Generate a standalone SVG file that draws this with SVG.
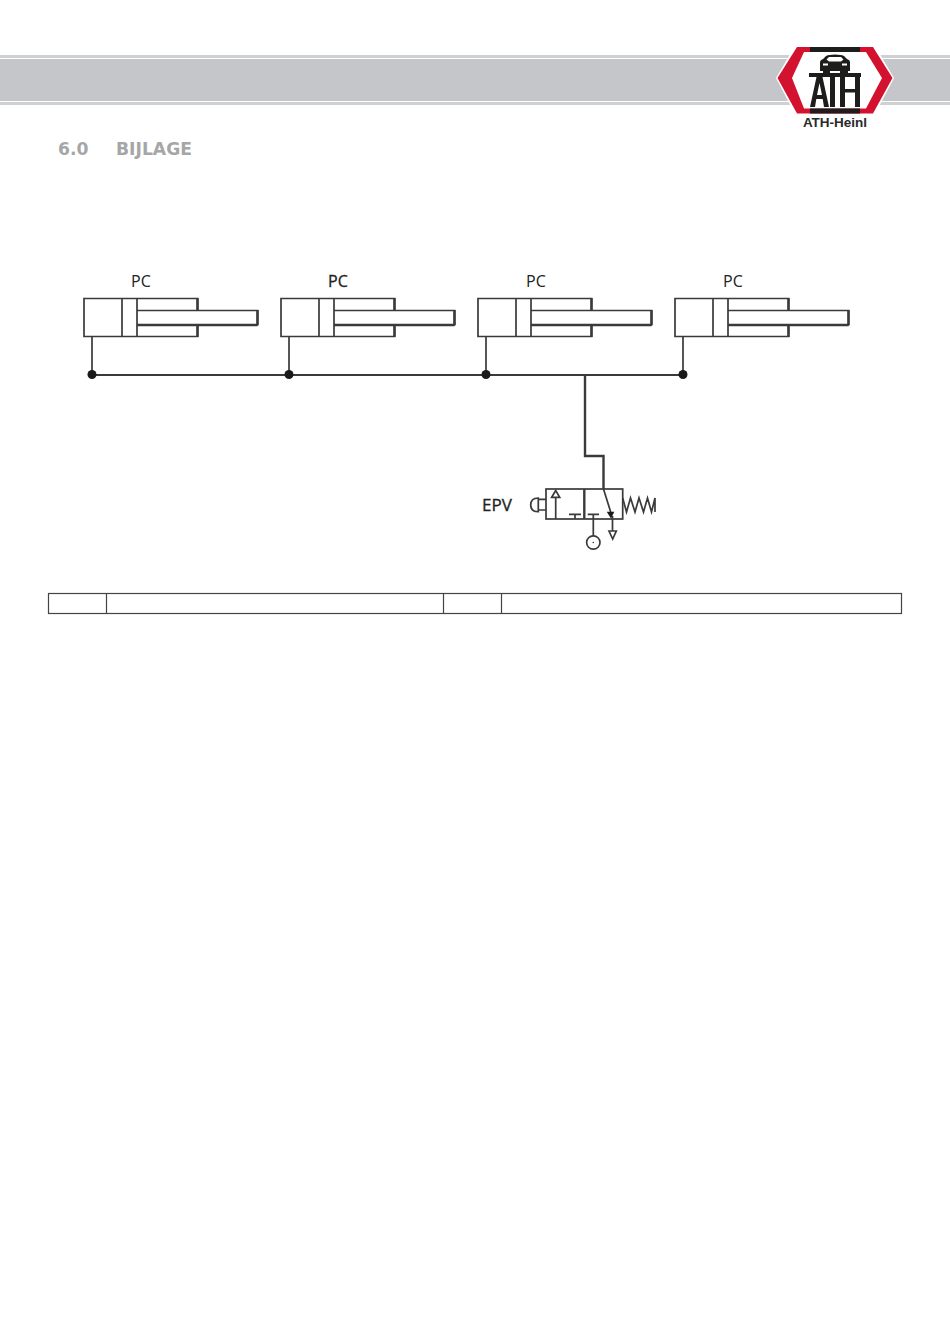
<svg xmlns="http://www.w3.org/2000/svg" width="950" height="1344" viewBox="0 0 950 1344">
<style>
.l{fill:none;stroke:#3a3a3a;stroke-width:1.7}
.t{fill:none;stroke:#444;stroke-width:1.2}
.k{fill:#1d1d1b}
.lb{font-family:"Open Sans","Liberation Sans",sans-serif;font-size:16px;fill:#222}
.h{font-family:"DejaVu Sans",sans-serif;font-weight:bold;font-size:17.200px;fill:#a6a6a6}
</style>
<defs>
<g id="cyl">
<path class="l" d="M197.500 310V298.500H84V336.500H197.500V325"/>
<path class="l" d="M122 298.500V336.500M137 298.500V336.500"/>
<path class="l" d="M137 310.500H257.500V325H137"/>
<path d="M197.500 298V310M197.500 325V337M257.500 310V325" fill="none" stroke="#3a3a3a" stroke-width="2.500"/>
<path d="M137 325H257.500" fill="none" stroke="#3a3a3a" stroke-width="2.400"/>
</g>
</defs>
<rect width="950" height="1344" fill="#fff"/>
<g id="header">
<rect x="0" y="55" width="950" height="3" fill="#cfd0d2"/>
<rect x="0" y="59" width="950" height="42" fill="#c4c6c9"/>
<rect x="0" y="102" width="950" height="3" fill="#cfd0d2"/>
<text class="h" x="58" y="155">6.0</text>
<text class="h" x="116" y="155">BIJLAGE</text>
</g>
<g id="logo">
<path d="M795.500 45H874.500L894 78L874.500 115H795.500L776 78Z" fill="#fff"/>
<path d="M797 47H873L892.500 78L873 113.500H797L777.500 78Z" fill="#d2122e"/>
<path d="M804 52H866L882 78L866 108.500H804L792 78Z" fill="#fff"/>
<path class="k" d="M810 47H860V52H810ZM810 108.500H860V113.500H810Z"/>
<path class="k" d="M820 71V62Q820 60 823 59L826 56Q829 54.500 835 54.500Q841 54.500 844 56L847 59Q850 60 850 62V71Z"/>
<path d="M826.500 59.500L829 57H841L843.500 59.500L841 61.500H829Z" fill="#fff"/>
<path d="M823 63.500H828V65.500H823ZM842 63.500H847V65.500H842Z" fill="#fff"/>
<rect class="k" x="823" y="71" width="7" height="3"/>
<rect class="k" x="840" y="71" width="8" height="3"/>
<rect class="k" x="809" y="73" width="52" height="4"/>
<path class="k" d="M810 107L816.500 77H822.500L829 107H824L822.700 99H816.300L815 107ZM817 95H822L819.500 83Z"/>
<rect class="k" x="830" y="77" width="5" height="30"/>
<path class="k" d="M840 77H845V89H855V77H860V107H855V92.500H845V107H840Z"/>
<text x="835" y="127" text-anchor="middle" font-family="Liberation Sans,sans-serif" font-weight="bold" font-size="13.500" fill="#2a2a2a">ATH-Heinl</text>
</g>
<g id="cylinder-1"><use href="#cyl"/><text class="lb" x="131" y="287">PC</text></g>
<g id="cylinder-2"><use href="#cyl" x="197"/><text class="lb" x="328" y="287" stroke="#222" stroke-width="0.300">PC</text></g>
<g id="cylinder-3"><use href="#cyl" x="394"/><text class="lb" x="526" y="287">PC</text></g>
<g id="cylinder-4"><use href="#cyl" x="591"/><text class="lb" x="723" y="287">PC</text></g>
<g id="connectors">
<path class="l" d="M92 336.500V375M289 336.500V375M486 336.500V375M683 336.500V375"/>
<path d="M92 375H683" fill="none" stroke="#3a3a3a" stroke-width="2"/>
<path d="M585 375V456H603.500V489" fill="none" stroke="#3a3a3a" stroke-width="2.400"/>
<g fill="#1a1a1a"><circle cx="92" cy="374.500" r="4.500"/><circle cx="289" cy="374.500" r="4.500"/><circle cx="486" cy="374.500" r="4.500"/><circle cx="683" cy="374.500" r="4.500"/></g>
</g>
<g id="valve">
<text x="482" y="510.500" font-family="Open Sans,Liberation Sans,sans-serif" font-size="17" fill="#222" stroke="#222" stroke-width="0.300">EPV</text>
<rect class="l" x="546" y="489" width="76.700" height="30"/>
<path d="M584.300 489V519" fill="none" stroke="#3a3a3a" stroke-width="2.400"/>
<path class="l" d="M555.700 519V497.300M551.700 497.300L555.700 490.500L559.700 497.300Z"/>
<path class="l" d="M569 514.300H581M575 514.300V519M587.700 514.300H599M593.300 514.300V536"/>
<path class="l" d="M603.500 489L611 513M612.500 516V531M609 531H616.300L612.700 539Z"/>
<path d="M606.700 511.700H614.300L611 518.500Z" fill="#1a1a1a"/>
<circle class="l" cx="593.300" cy="542.500" r="6.700"/>
<circle cx="593.300" cy="542.500" r="0.800" fill="#333"/>
<path class="l" d="M622.700 498L626.500 512L630.500 498L635 512L639 498L643.500 512L647.500 498L651.500 512L655 498V512"/>
<path class="l" d="M546 499.300H538.300M546 510H538.300M538.300 498Q530.700 498 530.700 505Q530.700 511.700 538.300 511.700Z"/>
</g>
<g id="table">
<rect class="t" x="48.500" y="593.500" width="853" height="20"/>
<path class="t" d="M106.500 593.500V613.500M443.500 593.500V613.500M501.500 593.500V613.500"/>
</g>
</svg>
